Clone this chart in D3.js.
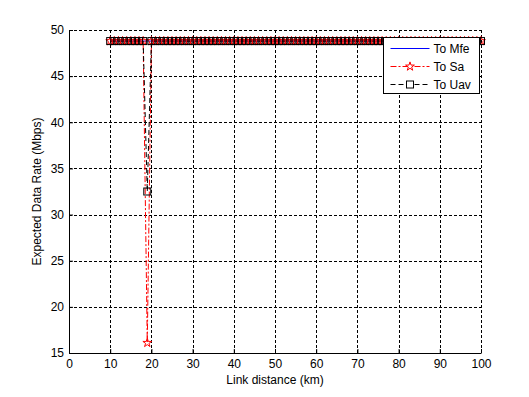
<!DOCTYPE html>
<html>
<head>
<meta charset="utf-8">
<script src="https://cdn.jsdelivr.net/npm/d3@7"></script>
<style>
  body { margin: 0; background: #fff; }
  text { font-family: "Liberation Sans", Arial, sans-serif; }
</style>
</head>
<body>
<script>
// link distance (km)
const distance = [
  10, 11, 12, 13, 14, 15, 16, 17, 18, 19, 20, 21, 22, 23, 24, 25, 26, 27, 28, 29,
  30, 31, 32, 33, 34, 35, 36, 37, 38, 39, 40, 41, 42, 43, 44, 45, 46, 47, 48, 49,
  50, 51, 52, 53, 54, 55, 56, 57, 58, 59, 60, 61, 62, 63, 64, 65, 66, 67, 68, 69,
  70, 71, 72, 73, 74, 75, 76, 77, 78, 79, 80, 81, 82, 83, 84, 85, 86, 87, 88, 89,
  90, 91, 92, 93, 94, 95, 96, 97, 98, 99, 100
];

const toMfe = [
  48.8, 48.8, 48.8, 48.8, 48.8, 48.8, 48.8, 48.8, 48.8, 48.8, 48.8, 48.8, 48.8, 48.8, 48.8, 48.8, 48.8, 48.8, 48.8, 48.8,
  48.8, 48.8, 48.8, 48.8, 48.8, 48.8, 48.8, 48.8, 48.8, 48.8, 48.8, 48.8, 48.8, 48.8, 48.8, 48.8, 48.8, 48.8, 48.8, 48.8,
  48.8, 48.8, 48.8, 48.8, 48.8, 48.8, 48.8, 48.8, 48.8, 48.8, 48.8, 48.8, 48.8, 48.8, 48.8, 48.8, 48.8, 48.8, 48.8, 48.8,
  48.8, 48.8, 48.8, 48.8, 48.8, 48.8, 48.8, 48.8, 48.8, 48.8, 48.8, 48.8, 48.8, 48.8, 48.8, 48.8, 48.8, 48.8, 48.8, 48.8,
  48.8, 48.8, 48.8, 48.8, 48.8, 48.8, 48.8, 48.8, 48.8, 48.8, 48.8
];

const toSa = [
  48.8, 48.8, 48.8, 48.8, 48.8, 48.8, 48.8, 48.8, 48.8, 16.1, 48.8, 48.8, 48.8, 48.8, 48.8, 48.8, 48.8, 48.8, 48.8, 48.8,
  48.8, 48.8, 48.8, 48.8, 48.8, 48.8, 48.8, 48.8, 48.8, 48.8, 48.8, 48.8, 48.8, 48.8, 48.8, 48.8, 48.8, 48.8, 48.8, 48.8,
  48.8, 48.8, 48.8, 48.8, 48.8, 48.8, 48.8, 48.8, 48.8, 48.8, 48.8, 48.8, 48.8, 48.8, 48.8, 48.8, 48.8, 48.8, 48.8, 48.8,
  48.8, 48.8, 48.8, 48.8, 48.8, 48.8, 48.8, 48.8, 48.8, 48.8, 48.8, 48.8, 48.8, 48.8, 48.8, 48.8, 48.8, 48.8, 48.8, 48.8,
  48.8, 48.8, 48.8, 48.8, 48.8, 48.8, 48.8, 48.8, 48.8, 48.8, 48.8
];

const toUav = [
  48.8, 48.8, 48.8, 48.8, 48.8, 48.8, 48.8, 48.8, 48.8, 32.5, 48.8, 48.8, 48.8, 48.8, 48.8, 48.8, 48.8, 48.8, 48.8, 48.8,
  48.8, 48.8, 48.8, 48.8, 48.8, 48.8, 48.8, 48.8, 48.8, 48.8, 48.8, 48.8, 48.8, 48.8, 48.8, 48.8, 48.8, 48.8, 48.8, 48.8,
  48.8, 48.8, 48.8, 48.8, 48.8, 48.8, 48.8, 48.8, 48.8, 48.8, 48.8, 48.8, 48.8, 48.8, 48.8, 48.8, 48.8, 48.8, 48.8, 48.8,
  48.8, 48.8, 48.8, 48.8, 48.8, 48.8, 48.8, 48.8, 48.8, 48.8, 48.8, 48.8, 48.8, 48.8, 48.8, 48.8, 48.8, 48.8, 48.8, 48.8,
  48.8, 48.8, 48.8, 48.8, 48.8, 48.8, 48.8, 48.8, 48.8, 48.8, 48.8
];

const xTicks = [0, 10, 20, 30, 40, 50, 60, 70, 80, 90, 100];
const yTicks = [15, 20, 25, 30, 35, 40, 45, 50];
const seriesNames = ["To Mfe", "To Sa", "To Uav"];

const width = 529, height = 397;
const margin = { left: 69, right: 48, top: 30, bottom: 44 };

const svg = d3.select("body").append("svg")
  .attr("width", width)
  .attr("height", height);

const x = d3.scaleLinear().domain([0, 100]).range([margin.left, width - margin.right]);
const y = d3.scaleLinear().domain([15, 50]).range([height - margin.bottom, margin.top]);

// grid
const grid = svg.append("g").attr("stroke", "#000").attr("stroke-width", 1)
  .attr("stroke-dasharray", "3,2").attr("shape-rendering", "crispEdges");
grid.selectAll(".gx").data(xTicks.slice(1)).enter().append("line")
  .attr("x1", (d) => Math.round(x(d)) + 0.5).attr("x2", (d) => Math.round(x(d)) + 0.5)
  .attr("y1", y(15)).attr("y2", y(50));
grid.selectAll(".gy").data(yTicks.slice(1)).enter().append("line")
  .attr("y1", (d) => Math.round(y(d)) + 0.5).attr("y2", (d) => Math.round(y(d)) + 0.5)
  .attr("x1", x(0)).attr("x2", x(100));

// axes
const xAxis = d3.axisBottom(x).tickValues(xTicks).tickSizeInner(-4).tickSizeOuter(0).tickPadding(6);
const yAxis = d3.axisLeft(y).tickValues(yTicks).tickSizeInner(-4).tickSizeOuter(0).tickPadding(5);

const gx = svg.append("g").attr("transform", `translate(0,${y(15)})`).call(xAxis);
const gy = svg.append("g").attr("transform", `translate(${x(0)},0)`).call(yAxis);
[gx, gy].forEach((g) => {
  g.select(".domain").attr("stroke", "#000");
  g.selectAll(".tick line").attr("stroke", "#000");
  g.selectAll("text").attr("fill", "#000").style("font-size", "12px")
    .style("font-family", "Liberation Sans, Arial, sans-serif");
});

// lines
const pts = (vals) => distance.map((d, i) => [d, vals[i]]);
const line = d3.line().x((d) => x(d[0])).y((d) => y(d[1]));

const plot = svg.append("g");
plot.append("path").datum(pts(toMfe)).attr("d", line)
  .attr("fill", "none").attr("stroke", "#0000ff").attr("stroke-width", 1);
plot.append("path").datum(pts(toSa)).attr("d", line)
  .attr("fill", "none").attr("stroke", "#ff0000").attr("stroke-width", 1)
  .attr("stroke-dasharray", "6,2,2,2");
plot.append("path").datum(pts(toUav)).attr("d", line)
  .attr("fill", "none").attr("stroke", "#000").attr("stroke-width", 1)
  .attr("stroke-dasharray", "5,3");

const star = d3.symbol().type(d3.symbolStar).size(24);
plot.selectAll(".star").data(pts(toSa)).enter().append("path")
  .attr("transform", (d) => `translate(${x(d[0])},${y(d[1])})`)
  .attr("d", star).attr("fill", "none").attr("stroke", "#ff0000").attr("stroke-width", 1);
plot.selectAll(".sq").data(pts(toUav)).enter().append("rect")
  .attr("x", (d) => x(d[0]) - 3.5).attr("y", (d) => y(d[1]) - 3.5)
  .attr("width", 7).attr("height", 7)
  .attr("fill", "none").attr("stroke", "#000").attr("stroke-width", 1);

// legend
const lg = svg.append("g").attr("transform", "translate(383.5,37.5)");
lg.append("rect").attr("width", 96).attr("height", 56)
  .attr("fill", "#fff").attr("stroke", "#000");
const rows = lg.selectAll(".row").data(seriesNames).enter().append("g")
  .attr("transform", (d, i) => `translate(0,${11 + i * 18})`);
rows.append("line").attr("x1", 7).attr("x2", 46).attr("y1", 0).attr("y2", 0)
  .attr("stroke", (d, i) => ["#0000ff", "#ff0000", "#000"][i])
  .attr("stroke-dasharray", (d, i) => [null, "6,2,2,2", "5,3"][i]);
rows.filter((d, i) => i === 1).append("path")
  .attr("transform", "translate(26.5,0)").attr("d", star)
  .attr("fill", "#fff").attr("stroke", "#ff0000");
rows.filter((d, i) => i === 2).append("rect")
  .attr("x", 23).attr("y", -3.5).attr("width", 7).attr("height", 7)
  .attr("fill", "#fff").attr("stroke", "#000");
rows.append("text").attr("x", 50).attr("y", 4.5).text((d) => d)
  .style("font-size", "12px").attr("fill", "#000");

// axis labels
svg.append("text").attr("x", (x(0) + x(100)) / 2).attr("y", 384)
  .attr("text-anchor", "middle").style("font-size", "12px").text("Link distance (km)");
svg.append("text")
  .attr("transform", `translate(41,${(y(15) + y(50)) / 2}) rotate(-90)`)
  .attr("text-anchor", "middle").style("font-size", "12px").text("Expected Data Rate (Mbps)");
</script>
</body>
</html>
